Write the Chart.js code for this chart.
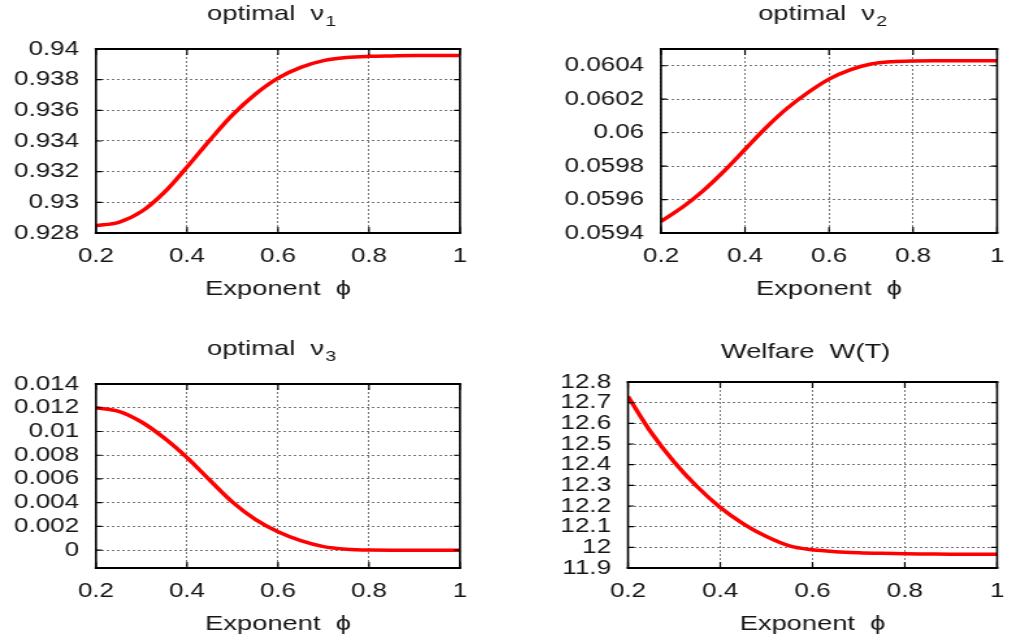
<!DOCTYPE html>
<html>
<head>
<meta charset="utf-8">
<script src="https://cdn.jsdelivr.net/npm/chart.js@4.4.1/dist/chart.umd.min.js"></script>
<style>
  html, body { margin: 0; padding: 0; background: #fff; }
  body { width: 1018px; height: 641px; position: relative; overflow: hidden; }
  canvas { position: absolute; transform-origin: 0 0; }
</style>
</head>
<body>
<canvas id="nu1"></canvas>
<canvas id="nu2"></canvas>
<canvas id="nu3"></canvas>
<canvas id="welfare"></canvas>
<script>
// exponent phi on the x axis
const phi = [0.2, 0.25, 0.3, 0.35, 0.4, 0.45, 0.5, 0.55, 0.6, 0.65, 0.7, 0.75, 0.8, 0.85, 0.9, 0.95, 1.0];

const nu1 = [0.92848, 0.9287, 0.9294, 0.93065, 0.9323, 0.93405, 0.9357, 0.93705, 0.9381, 0.9388, 0.93924, 0.93944, 0.93952, 0.93955, 0.93957, 0.93957, 0.93957];
const nu2 = [0.05947, 0.059552, 0.059652, 0.05977, 0.0599, 0.06003, 0.060145, 0.06024, 0.06032, 0.060375, 0.06041, 0.060424, 0.060429, 0.06043, 0.06043, 0.06043, 0.06043];
const nu3 = [0.012, 0.0117, 0.0108, 0.00945, 0.0078, 0.0059, 0.00405, 0.0026, 0.00155, 0.0008, 0.0003, 0.00008, 0.00001, 0, 0, 0, 0];
const welfare = [12.73, 12.556, 12.413, 12.293, 12.193, 12.114, 12.052, 12.007, 11.988, 11.979, 11.974, 11.971, 11.969, 11.968, 11.967, 11.967, 11.967];

const xTicks = [0.2, 0.4, 0.6, 0.8, 1];
const nu1Ticks = [0.928, 0.93, 0.932, 0.934, 0.936, 0.938, 0.94];
const nu2Ticks = [0.0594, 0.0596, 0.0598, 0.06, 0.0602, 0.0604];
const nu3Ticks = [0, 0.002, 0.004, 0.006, 0.008, 0.01, 0.012, 0.014];
const welfareTicks = [11.9, 12, 12.1, 12.2, 12.3, 12.4, 12.5, 12.6, 12.7, 12.8];

// the original picture is stretched sideways, so each canvas is too
const SX = 1.3;
const FONT = "'Liberation Sans', Arial, Helvetica, sans-serif";
const INK = '#151515';

const titlePlugin = {
  id: 'panelTitle',
  afterDraw(chart, args, opts) {
    const ctx = chart.ctx, area = chart.chartArea;
    ctx.save();
    ctx.fillStyle = INK;
    ctx.textBaseline = 'alphabetic';
    ctx.textAlign = 'left';
    ctx.font = '21px ' + FONT;
    const w1 = ctx.measureText(opts.main).width;
    ctx.font = '15px ' + FONT;
    const w2 = opts.sub ? ctx.measureText(opts.sub).width : 0;
    const cx = (area.left + area.right) / 2 - 7 / SX;
    const x = cx - (w1 + w2) / 2;
    ctx.font = '21px ' + FONT;
    ctx.fillText(opts.main, x, opts.baseline);
    if (opts.sub) {
      ctx.font = '15px ' + FONT;
      ctx.fillText(opts.sub, x + w1 + 1, opts.baseline + 6);
    }
    ctx.restore();
  }
};

// black box round the plot with small inward tick marks, like gnuplot
const framePlugin = {
  id: 'frame',
  afterDraw(chart) {
    const ctx = chart.ctx, a = chart.chartArea;
    const xs = chart.scales.x, ys = chart.scales.y;
    ctx.save();
    ctx.strokeStyle = '#000';
    ctx.lineWidth = 1.2;
    ctx.beginPath();
    xs.ticks.forEach(t => {
      const px = xs.getPixelForValue(t.value);
      ctx.moveTo(px, a.bottom); ctx.lineTo(px, a.bottom - 6);
      ctx.moveTo(px, a.top); ctx.lineTo(px, a.top + 6);
    });
    ys.ticks.forEach(t => {
      const py = ys.getPixelForValue(t.value);
      ctx.moveTo(a.left, py); ctx.lineTo(a.left + 6 / SX, py);
      ctx.moveTo(a.right, py); ctx.lineTo(a.right - 6 / SX, py);
    });
    ctx.stroke();
    ctx.lineWidth = 2;
    ctx.beginPath();
    ctx.moveTo(a.left - 1, a.top); ctx.lineTo(a.right + 1, a.top);
    ctx.moveTo(a.left - 1, a.bottom); ctx.lineTo(a.right + 1, a.bottom);
    ctx.stroke();
    ctx.lineWidth = 1.6;
    ctx.beginPath();
    ctx.moveTo(a.left, a.top); ctx.lineTo(a.left, a.bottom);
    ctx.moveTo(a.right, a.top); ctx.lineTo(a.right, a.bottom);
    ctx.stroke();
    ctx.restore();
  }
};

function fmt(v) {
  return String(v);
}

// box: canvas place on the page; plot: plot area inside the canvas (page px)
function makePanel(id, box, plot, title, values, yTicks, yMin, yMax) {
  const canvas = document.getElementById(id);
  const w = Math.round(box.w / SX);
  canvas.width = w;
  canvas.height = box.h;
  canvas.style.left = box.x + 'px';
  canvas.style.top = box.y + 'px';
  canvas.style.width = w + 'px';
  canvas.style.height = box.h + 'px';
  canvas.style.transform = 'scaleX(' + SX + ')';

  const xTitleBaseline = plot.b + 64;
  const xTitlePad = box.h - (xTitleBaseline - 7) - 12;

  return new Chart(canvas, {
    type: 'line',
    data: {
      datasets: [{
        data: values.map((v, i) => ({ x: phi[i], y: v })),
        borderColor: '#ff0000',
        borderWidth: 3.5,
        pointRadius: 0,
        cubicInterpolationMode: 'monotone',
        fill: false
      }]
    },
    options: {
      responsive: false,
      animation: false,
      devicePixelRatio: 1,
      layout: { padding: { left: 0, top: plot.t, right: w - plot.r / SX, bottom: 0 } },
      plugins: {
        legend: { display: false },
        tooltip: { enabled: false },
        title: { display: false },
        panelTitle: title
      },
      scales: {
        x: {
          type: 'linear',
          min: 0.2,
          max: 1,
          afterBuildTicks: s => { s.ticks = xTicks.map(v => ({ value: v })); },
          afterFit: s => { s.height = box.h - plot.b; },
          grid: { color: '#777', lineWidth: 1, drawTicks: false },
          border: { display: false, dash: [2, 2] },
          ticks: { font: { size: 20, family: FONT }, color: INK, padding: 11, autoSkip: false, maxRotation: 0, callback: fmt },
          title: { display: true, text: 'Exponent  \u03d5', font: { size: 21, family: FONT }, color: INK, padding: { top: 0, bottom: xTitlePad } }
        },
        y: {
          min: yMin,
          max: yMax,
          afterBuildTicks: s => { s.ticks = yTicks.map(v => ({ value: v })); },
          afterFit: s => { s.width = plot.l / SX; },
          grid: { color: '#777', lineWidth: 1, drawTicks: false },
          border: { display: false, dash: [2, 2] },
          ticks: { font: { size: 20, family: FONT }, color: INK, padding: 13, autoSkip: false, callback: fmt }
        }
      }
    },
    plugins: [titlePlugin, framePlugin]
  });
}

makePanel('nu1', { x: 0, y: 0, w: 509, h: 320 }, { l: 96, r: 460, t: 49, b: 233 },
  { main: 'optimal  \u03bd', sub: '1', baseline: 20 }, nu1, nu1Ticks, 0.928, 0.94);
makePanel('nu2', { x: 509, y: 0, w: 509, h: 320 }, { l: 152, r: 500, t: 49, b: 233 },
  { main: 'optimal  \u03bd', sub: '2', baseline: 20 }, nu2, nu2Ticks, 0.0594, 0.0605);
makePanel('nu3', { x: 0, y: 320, w: 509, h: 321 }, { l: 96, r: 460, t: 64, b: 248 },
  { main: 'optimal  \u03bd', sub: '3', baseline: 35 }, nu3, nu3Ticks, -0.0015, 0.014);
makePanel('welfare', { x: 509, y: 320, w: 509, h: 321 }, { l: 119, r: 500, t: 62, b: 248 },
  { main: 'Welfare  W(T)', sub: '', baseline: 38 }, welfare, welfareTicks, 11.9, 12.8);
</script>
</body>
</html>
